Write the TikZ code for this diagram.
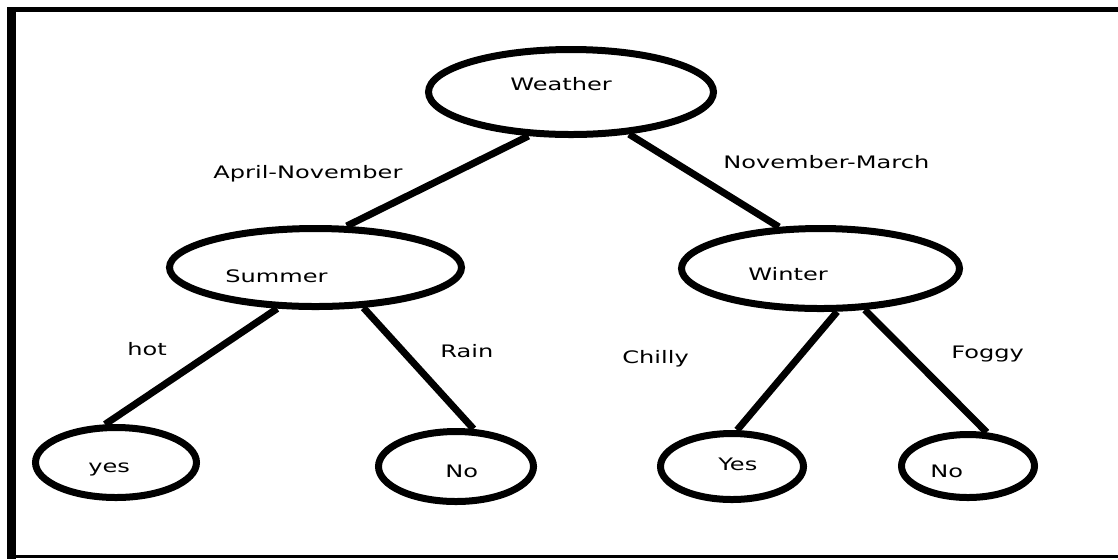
\documentclass[tikz,border=0pt]{standalone}
\usepackage{fontspec}
\setmainfont{DejaVu Sans}[FakeStretch=1.4]
\usetikzlibrary{shapes.geometric}
\begin{document}
\begin{tikzpicture}
[
    x=0.5pt, y=-0.5pt,
    every node/.style={font=\fontsize{8.6}{10}\selectfont},
    state/.style={ellipse, draw, line width=3.5pt, inner sep=0pt},
    word/.style={inner sep=0pt, anchor=base west},
    branch/.style={line width=3.5pt},
]
\useasboundingbox (0,0) rectangle (1118,559);
\fill (7,7) rectangle (1118,12);
\fill (7,7) rectangle (16,559);
\fill (7,555) rectangle (1118,558);

\node[state, minimum width=142.5pt, minimum height=42.5pt] (weather) at (571,92) {};
\node[state, minimum width=146pt, minimum height=39pt] (summer) at (315.5,267.5) {};
\node[state, minimum width=139pt, minimum height=40pt] (winter) at (820.5,268.5) {};
\node[state, minimum width=80.5pt, minimum height=35pt] (yesA) at (116,462.5) {};
\node[state, minimum width=77.5pt, minimum height=35pt] (noA) at (456,466.5) {};
\node[state, minimum width=71.5pt, minimum height=33pt] (yesB) at (732,466.5) {};
\node[state, minimum width=66.5pt, minimum height=31.5pt] (noB) at (968,466) {};

\node[word] (tWeather) at (510,90) {Weather};
\node[word] (tSummer) at (225,282) {Summer};
\node[word] (tWinter) at (748,280) {Winter};
\node[word] (tYesA) at (88,472) {yes};
\node[word] (tNoA) at (445,477) {No};
\node[word] (tYesB) at (718,470) {Yes};
\node[word] (tNoB) at (930,477) {No};

\node[word] (april) at (213,178) {April-November};
\node[word] (november) at (723,168) {November-March};
\node[word] (hot) at (127,355) {hot};
\node[word] (rain) at (440,357) {Rain};
\node[word] (chilly) at (622,363) {Chilly};
\node[word] (foggy) at (951,358) {Foggy};

\draw[branch] (weather.226) -- (summer.53.5);
\draw[branch] (weather.324) -- (winter.135);
\draw[branch] (summer.227) -- (yesA.106);
\draw[branch] (summer.320.5) -- (noA.65);
\draw[branch] (winter.291) -- (yesB.82);
\draw[branch] (winter.317) -- (noB.61);
\end{tikzpicture}
\end{document}
